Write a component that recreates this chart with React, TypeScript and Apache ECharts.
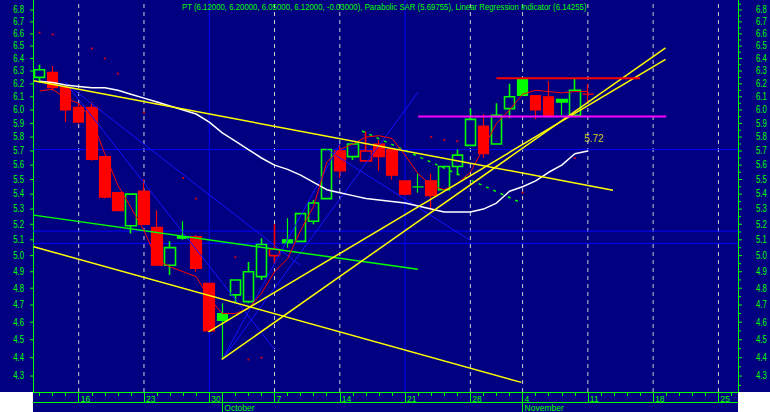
import React, { useEffect, useRef } from "react";
import * as echarts from "echarts";

// ---------- data ----------
const dates = [
  "09-11","09-12","09-13","09-16","09-17","09-18","09-19","09-20","09-23","09-24","09-25","09-26","09-27","09-30",
  "10-01","10-02","10-03","10-04","10-07","10-08","10-09","10-10","10-11","10-14","10-15","10-16","10-17","10-18",
  "10-21","10-22","10-23","10-24","10-25","10-28","10-29","10-30","10-31",
  "11-04","11-05","11-06","11-07","11-08","11-11","11-12","11-13","11-14","11-15","11-18","11-19","11-20","11-21",
  "11-22","11-25","11-26"
];
const mondays = ["09-16","09-23","09-30","10-07","10-14","10-21","10-28","11-04","11-11","11-18","11-25"];
const monthStarts = ["10-01","11-04"];
const monthNames = ["October","November"];

const opens = [6.25,6.29,6.17,6.02,6.02,5.66,5.41,5.19,5.42,5.18,4.94,5.12,5.12,4.83,4.65,4.76,4.72,4.87,5.00,5.10,5.09,5.22,5.37,5.70,5.66,5.63,5.75,5.71,5.49,5.45,5.49,5.43,5.59,5.74,5.88,5.75,6.01,6.24,6.11,6.10,6.08,5.96,6.12];
const highs = [6.35,6.34,6.18,6.05,6.06,5.66,5.41,5.40,5.50,5.29,5.09,5.22,5.13,4.83,4.71,4.85,4.96,5.11,5.20,5.24,5.27,5.36,5.71,5.75,5.75,5.84,5.78,5.71,5.49,5.54,5.54,5.59,5.71,6.01,5.97,6.05,6.20,6.25,6.11,6.22,6.08,6.24,6.20];
const lows = [6.21,6.15,5.91,5.90,5.63,5.37,5.29,5.14,5.20,4.94,4.88,5.10,4.90,4.55,4.39,4.71,4.71,4.85,4.95,5.05,5.09,5.20,5.37,5.51,5.635,5.63,5.56,5.50,5.39,5.41,5.29,5.43,5.53,5.74,5.65,5.75,5.94,6.11,5.93,5.95,5.96,5.96,6.05];
const closes = [6.31,6.17,6.00,5.91,5.64,5.38,5.29,5.40,5.20,4.94,5.05,5.11,4.92,4.55,4.61,4.85,4.90,5.07,5.04,5.08,5.27,5.34,5.71,5.56,5.75,5.70,5.66,5.53,5.40,5.45,5.39,5.59,5.67,5.93,5.68,5.96,6.10,6.11,6.00,5.95,6.06,6.15,6.12];

// Linear Regression Indicator (red)
const lri = [6.145,6.157,6.09,6.05,5.93,5.68,5.46,5.31,5.16,4.97,4.93,4.90,4.87,4.74,4.65,4.65,4.68,4.77,4.90,4.98,5.16,5.32,5.62,5.71,5.75,5.80,5.81,5.79,5.67,5.54,5.46,5.43,5.47,5.55,5.72,5.90,6.00,6.12,6.15,6.14,6.13,6.14,6.14];
// white average line
const whiteLine = [6.22,6.21,6.19,6.18,6.17,6.17,6.15,6.12,6.09,6.06,6.03,6.00,5.97,5.91,5.83,5.77,5.71,5.65,5.60,5.57,5.53,5.48,5.43,5.41,5.39,5.37,5.36,5.35,5.34,5.32,5.30,5.28,5.28,5.28,5.30,5.34,5.42,5.45,5.49,5.55,5.60,5.68,5.70];
// Parabolic SAR dots
const sarDates = ["09-11","09-12","09-17","09-18","09-19","09-23","09-26","09-27","10-02","10-03","10-04","10-23","10-24","10-25","11-04","11-08"];
const sarValues = [6.61,6.595,6.48,6.40,6.28,5.98,5.51,5.37,4.99,4.39,4.40,5.80,5.78,5.77,5.41,5.65];
// price label
const priceLabelDate = "11-11";
const priceLabelValue = 5.72;

const yTicks = [4.3,4.4,4.5,4.6,4.7,4.8,4.9,5.0,5.1,5.2,5.3,5.4,5.5,5.6,5.7,5.8,5.9,6.0,6.1,6.2,6.3,6.4,6.5,6.6,6.7,6.8];
const yMinorTicks = [4.25,4.35,4.45,4.55,4.65,4.75,4.85,4.95,5.05,5.15,5.25,5.35,5.45,5.55,5.65,5.75,5.85,5.95,6.05,6.15,6.25,6.35,6.45,6.55,6.65,6.75,6.85];

const blueLevels = [5.71, 5.156, 5.077];
const blueDays = ["09-30", "10-21"];

// trend lines: [[dayIndex, price], [dayIndex, price]]
const yellowLines = [
  [[-0.45, 6.223], [43.92, 5.427]],
  [[-0.45, 5.056], [36.91, 4.266]],
  [[12.94, 4.545], [47.95, 6.393]],
  [[13.96, 4.391], [47.95, 6.486]],
];
const greenLines = [[[-0.45, 5.26], [28.98, 4.915]]];
const greenDottedLines = [[[24.7, 5.844], [36.94, 5.34]]];
const blueLines = [
  [[1.95, 6.215], [18.04, 4.442]],
  [[1.97, 6.205], [19.95, 4.941]],
  [[22, 5.71], [32.96, 5.098]],
  [[14, 4.39], [23, 5.75]],
  [[14, 4.39], [29, 6.136]],
];
const magentaLines = [[[29, 5.952], [48, 5.952]]];
const redLines = [[[35, 6.244], [46, 6.244]]];

const TITLE = "PT (6.12000, 6.20000, 6.05000, 6.12000, -0.03000), Parabolic SAR (5.69755), Linear Regression Indicator (6.14255)";

// ---------- styles ----------
const NAVY = "#000080";
const GREEN = "#00ff00";
const RED = "#ff0000";
const YELLOW = "#ffff00";
const BLUE = "#1414ff";
const FONT = "'Liberation Sans', Arial, sans-serif";
const Y_MIN = 4.215;
const Y_MAX = 6.886;

function seg(data: number[][], color: string, width: number, type: any = "solid", z = 5) {
  return {
    type: "line",
    xAxisIndex: 3,
    yAxisIndex: 0,
    data,
    symbol: "none",
    silent: true,
    z,
    lineStyle: { color, width, type },
  };
}

export default function App() {
  const ref = useRef<HTMLDivElement>(null);
  useEffect(() => {
    const el = ref.current!;
    const chart = echarts.init(el, null, { renderer: "svg" });

    const candleData = opens.map((o, i) => {
      const c = closes[i];
      const up = i === 0 || c >= closes[i - 1];
      const col = up ? GREEN : RED;
      const hollow = c > o;
      const fill = hollow ? NAVY : col;
      return {
        value: [o, c, lows[i], highs[i]],
        itemStyle: {
          color: fill, color0: fill,
          borderColor: col, borderColor0: col, borderColorDoji: col,
          borderWidth: hollow ? 1.6 : 1.2,
        },
      };
    });

    const series: any[] = [];
    // weekly dashed lines
    mondays.filter((d) => !blueDays.includes(d)).forEach((d) => {
      const i = dates.indexOf(d);
      series.push(seg([[i, Y_MIN], [i, Y_MAX]], "#d0d0d0", 1, [4, 4], 1));
    });
    blueDays.forEach((d) => {
      const i = dates.indexOf(d);
      series.push(seg([[i, Y_MIN], [i, Y_MAX]], "#0000ff", 1, "solid", 1));
    });
    blueLevels.forEach((v) => {
      series.push(seg([[-0.5, v], [dates.length - 0.5, v]], "#0000ff", 1, "solid", 1));
    });

    series.push({
      type: "candlestick",
      xAxisIndex: 0,
      yAxisIndex: 0,
      barWidth: 11,
      data: candleData,
      silent: true,
      z: 3,
    });

    blueLines.forEach((l) => series.push(seg(l, BLUE, 1, "solid", 4)));
    series.push({
      type: "line", xAxisIndex: 0, yAxisIndex: 0, data: whiteLine, symbol: "none", silent: true, z: 5,
      lineStyle: { color: "#ffffff", width: 1.5 },
    });
    series.push({
      type: "line", xAxisIndex: 0, yAxisIndex: 0, data: lri, symbol: "none", silent: true, z: 6,
      lineStyle: { color: RED, width: 1 },
    });
    greenLines.forEach((l) => series.push(seg(l, GREEN, 1.5, "solid", 5)));
    greenDottedLines.forEach((l) => series.push(seg(l, GREEN, 1.5, [3, 5], 5)));
    yellowLines.forEach((l) => series.push(seg(l, YELLOW, 1.5, "solid", 6)));
    magentaLines.forEach((l) => series.push(seg(l, "#ff00ff", 2, "solid", 6)));
    redLines.forEach((l) => series.push(seg(l, RED, 2, "solid", 6)));

    series.push({
      type: "scatter", xAxisIndex: 0, yAxisIndex: 0, symbol: "rect", symbolSize: 2, silent: true, z: 7,
      itemStyle: { color: RED },
      data: sarDates.map((d, i) => [d, sarValues[i]]),
    });
    series.push({
      type: "scatter", xAxisIndex: 0, yAxisIndex: 0, symbolSize: 1, silent: true, z: 7,
      itemStyle: { color: "rgba(0,0,0,0)" },
      label: {
        show: true, position: "top", distance: 4, offset: [6, 0],
        formatter: (p: any) => Number(p.value[1]).toFixed(2),
        color: YELLOW, fontSize: 10, fontFamily: FONT,
      },
      data: [[priceLabelDate, priceLabelValue]],
    });

    // y-axis ticks & labels on both sides (log scale)
    series.push({
      type: "custom", xAxisIndex: 3, yAxisIndex: 0, silent: true, clip: false, z: 10,
      data: yTicks.map((v) => [0, v]),
      encode: { x: 0, y: 1 },
      renderItem: (params: any, api: any) => {
        const v = api.value(1);
        const y = api.coord([0, v])[1];
        const cs = params.coordSys;
        const L = cs.x, R = cs.x + cs.width;
        const txt = Number(v).toFixed(1);
        return {
          type: "group",
          children: [
            { type: "line", shape: { x1: L - 3, y1: y, x2: L, y2: y }, style: { stroke: GREEN, lineWidth: 1 } },
            { type: "line", shape: { x1: R, y1: y, x2: R + 4, y2: y }, style: { stroke: GREEN, lineWidth: 1 } },
            { type: "text", x: L - 9, y, scaleX: 0.78, style: { text: txt, fill: GREEN, fontSize: 10, fontFamily: FONT, align: "right", verticalAlign: "middle" } },
            { type: "text", x: R + 18, y, scaleX: 0.78, style: { text: txt, fill: GREEN, fontSize: 10, fontFamily: FONT, align: "left", verticalAlign: "middle" } },
          ],
        };
      },
    });
    series.push({
      type: "custom", xAxisIndex: 3, yAxisIndex: 0, silent: true, clip: false, z: 10,
      data: yMinorTicks.map((v) => [0, v]),
      encode: { x: 0, y: 1 },
      renderItem: (params: any, api: any) => {
        const y = api.coord([0, api.value(1)])[1];
        const cs = params.coordSys;
        const R = cs.x + cs.width;
        return { type: "line", shape: { x1: R, y1: y, x2: R + 3, y2: y }, style: { stroke: GREEN, lineWidth: 1 } };
      },
    });

    const yBase: any = {
      type: "log", logBase: 10, min: Y_MIN, max: Y_MAX,
      axisLine: { show: true, onZero: false, lineStyle: { color: GREEN, width: 1 } },
      axisTick: { show: false }, axisLabel: { show: false }, splitLine: { show: false },
      minorTick: { show: false }, minorSplitLine: { show: false },
    };
    const catBase: any = {
      type: "category", data: dates, boundaryGap: true, position: "bottom",
      splitLine: { show: false }, axisPointer: { show: false },
    };

    const option: any = {
      animation: false,
      backgroundColor: NAVY,
      grid: { left: 33, right: 32, top: 0, bottom: 20, containLabel: false },
      xAxis: [
        {
          ...catBase,
          axisLine: { show: true, onZero: false, lineStyle: { color: GREEN, width: 1 } },
          axisTick: { show: true, interval: 0, length: 4, alignWithLabel: true, lineStyle: { color: GREEN } },
          axisLabel: { show: false },
        },
        {
          ...catBase,
          axisLine: { show: false, onZero: false },
          axisTick: {
            show: true, length: 10, alignWithLabel: true, lineStyle: { color: GREEN },
            interval: (i: number, v: string) => mondays.includes(v) || monthStarts.includes(v),
          },
          axisLabel: {
            show: true, interval: (i: number, v: string) => mondays.includes(v),
            formatter: (v: string) => String(Number(v.split("-")[1])),
            align: "left", padding: [0, 0, 0, 2], margin: 2, fontSize: 8.5, color: GREEN, fontFamily: FONT,
          },
        },
        {
          ...catBase,
          offset: 10,
          axisLine: { show: true, onZero: false, lineStyle: { color: GREEN, width: 1 } },
          axisTick: {
            show: true, length: 10, alignWithLabel: true, lineStyle: { color: GREEN },
            interval: (i: number, v: string) => monthStarts.includes(v),
          },
          axisLabel: {
            show: true, interval: (i: number, v: string) => monthStarts.includes(v),
            formatter: (v: string) => monthNames[monthStarts.indexOf(v)],
            align: "left", padding: [0, 0, 0, 2], margin: 1, fontSize: 8.5, color: GREEN, fontFamily: FONT,
          },
        },
        { type: "value", min: -0.5, max: dates.length - 0.5, show: false },
      ],
      yAxis: [
        { ...yBase, position: "left" },
        { ...yBase, position: "right" },
      ],
      graphic: [
        { type: "rect", shape: { x: 0, y: 392, width: 33, height: 20 }, style: { fill: "#ffffff" }, z: 100 },
        { type: "rect", shape: { x: 738, y: 392, width: 32, height: 20 }, style: { fill: "#ffffff" }, z: 100 },
        {
          type: "text", x: 182, y: 7, scaleX: 0.92, z: 100,
          style: { text: TITLE, fill: GREEN, fontSize: 8.5, fontFamily: FONT, align: "left", verticalAlign: "middle" },
        },
      ],
      series,
    };
    chart.setOption(option);
    return () => chart.dispose();
  }, []);
  return <div ref={ref} style={{ position: "absolute", left: 0, top: 0, width: 770, height: 412 }} />;
}
